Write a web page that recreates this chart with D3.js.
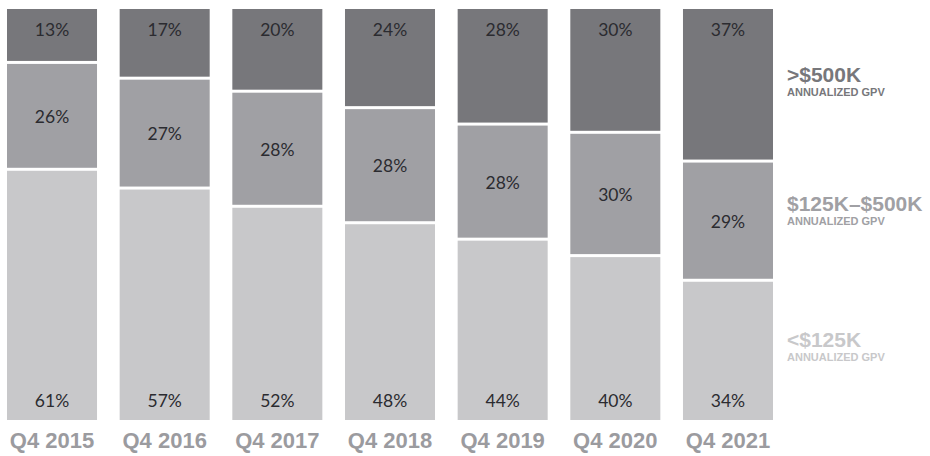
<!DOCTYPE html>
<html>
<head>
	<meta charset="utf-8">
	<title>GPV mix by quarter</title>
	<script src="https://cdn.jsdelivr.net/npm/d3@7/dist/d3.min.js"></script>
	<style>
		body { margin: 0; background: #fff; }
		.pct { font-family: Lato, "Open Sans", sans-serif; font-size: 17.5px; fill: #2b2b30; }
		.xlab { font-family: "Liberation Sans", Arial, sans-serif; font-weight: bold; font-size: 22px; fill: #9b9b9f; }
		.legt { font-family: "Liberation Sans", Arial, sans-serif; font-weight: bold; font-size: 21px; }
		.legs { font-family: "Liberation Sans", Arial, sans-serif; font-weight: bold; font-size: 11px; }
	</style>
</head>
<body>
	<svg id="chart" width="930" height="456"></svg>

	<script>
		// data
		var quarters = ['Q4 2015', 'Q4 2016', 'Q4 2017', 'Q4 2018', 'Q4 2019', 'Q4 2020', 'Q4 2021'];
		var small = [61, 57, 52, 48, 44, 40, 34];   // <$125K
		var mid = [26, 27, 28, 28, 28, 30, 29];     // $125K-$500K
		var large = [13, 17, 20, 24, 28, 30, 37];   // >$500K

		var keys = ['small', 'mid', 'large'];
		var legendTitles = ['<$125K', '$125K–$500K', '>$500K'];
		var colors = ['#c8c8ca', '#a0a0a4', '#77777b'];

		var rows = quarters.map((q, i) => ({ q: q, small: small[i], mid: mid[i], large: large[i] }));

		var svg = d3.select('#chart');

		var x = d3.scaleBand()
			.domain(quarters)
			.range([7, 773])
			.paddingInner(0.201)
			.paddingOuter(0);

		var y = d3.scaleLinear()
			.domain([0, 1])
			.range([420, 9]);

		var color = d3.scaleOrdinal().domain(keys).range(colors);

		var series = d3.stack()
			.keys(keys)
			.offset(d3.stackOffsetExpand)(rows);

		var gap = 1.5;

		var groups = svg.selectAll('g.series')
			.data(series)
			.enter()
			.append('g')
			.attr('class', 'series')
			.attr('fill', d => color(d.key));

		groups.selectAll('rect')
			.data(d => d)
			.enter()
			.append('rect')
			.attr('x', d => x(d.data.q))
			.attr('width', x.bandwidth())
			.attr('y', d => y(d[1]) + (d[1] < 1 ? gap : 0))
			.attr('height', d => y(d[0]) - y(d[1]) - (d[1] < 1 ? gap : 0) - (d[0] > 0 ? gap : 0));

		// percentage labels
		groups.each(function(s) {
			d3.select(this).selectAll('text')
				.data(s)
				.enter()
				.append('text')
				.attr('class', 'pct')
				.attr('text-anchor', 'middle')
				.attr('x', d => x(d.data.q) + x.bandwidth() / 2)
				.attr('y', d => {
					if (s.key == 'small') return y(d[0]) - 13;
					if (s.key == 'large') return y(d[1]) + 27;
					return (y(d[0]) + y(d[1])) / 2 + 7;
				})
				.text(d => d.data[s.key] + '%');
		});

		// x labels
		svg.selectAll('text.xlab')
			.data(quarters)
			.enter()
			.append('text')
			.attr('class', 'xlab')
			.attr('text-anchor', 'middle')
			.attr('x', d => x(d) + x.bandwidth() / 2)
			.attr('y', 448)
			.text(d => d);

		// legend on the right
		var legendY = [347, 211, 82];
		var leg = svg.selectAll('g.leg')
			.data(series)
			.enter()
			.append('g')
			.attr('class', 'leg')
			.attr('transform', (s, i) => 'translate(787,' + legendY[i] + ')');

		leg.append('text')
			.attr('class', 'legt')
			.attr('fill', s => color(s.key))
			.text((s, i) => legendTitles[i]);

		leg.append('text')
			.attr('class', 'legs')
			.attr('y', 14)
			.attr('fill', s => color(s.key))
			.text('ANNUALIZED GPV');
	</script>
</body>
</html>
